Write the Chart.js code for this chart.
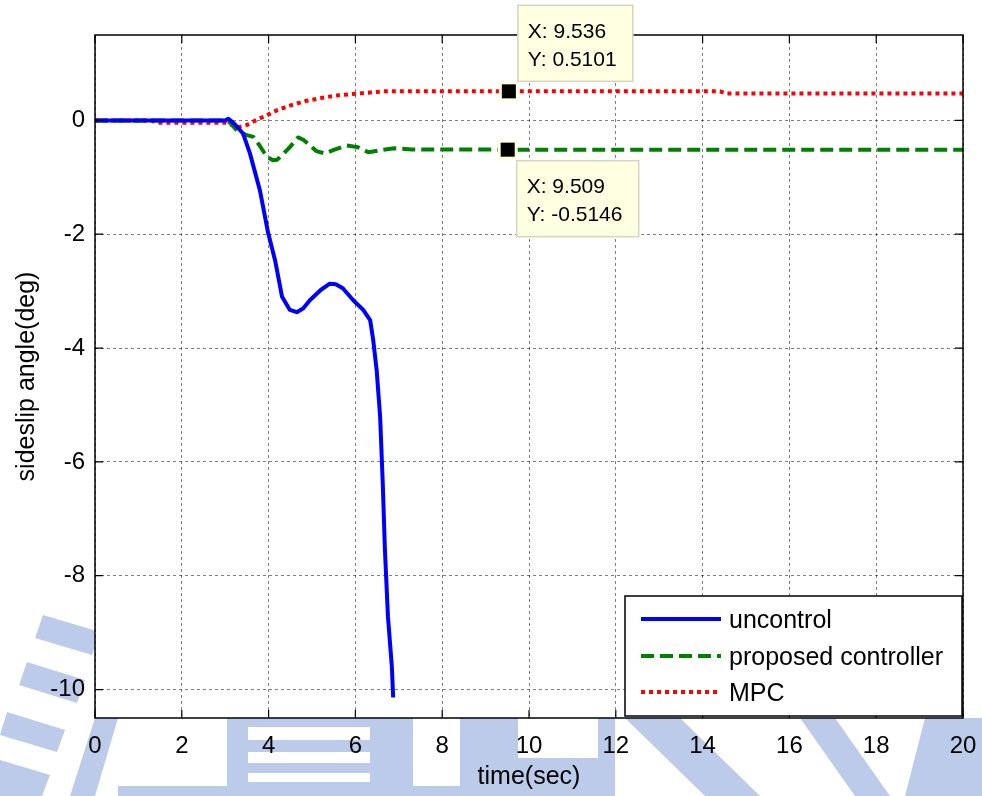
<!DOCTYPE html>
<html>
<head>
<meta charset="utf-8">
<script src="https://cdn.jsdelivr.net/npm/chart.js@4.4.0/dist/chart.umd.min.js"></script>
<style>
body { margin: 0; background: #fff; }
</style>
</head>
<body>
<canvas id="myChart" width="982" height="796"></canvas>
<script>
// tick values
var xTicks = [0, 2, 4, 6, 8, 10, 12, 14, 16, 18, 20];
var yTicks = [-10, -8, -6, -4, -2, 0];

// uncontrol
var tUncontrol = [0, 1, 2, 3.0, 3.07, 3.2, 3.41, 3.57, 3.8, 3.99, 4.15, 4.31, 4.49, 4.65, 4.8, 4.95, 5.2, 5.41, 5.55, 5.71, 5.95, 6.18, 6.34, 6.41, 6.49, 6.57, 6.63, 6.68, 6.75, 6.84, 6.87];
var yUncontrol = [0, 0, 0, 0.0, 0.03, -0.05, -0.23, -0.58, -1.23, -1.98, -2.46, -3.1, -3.33, -3.37, -3.3, -3.16, -2.98, -2.87, -2.88, -2.95, -3.16, -3.33, -3.51, -3.86, -4.39, -5.21, -6.37, -7.54, -8.72, -9.6, -10.14];

// proposed controller
var tProposed = [0, 3.0, 3.1, 3.3, 3.5, 3.65, 3.8, 3.96, 4.1, 4.2, 4.35, 4.49, 4.68, 4.8, 4.95, 5.1, 5.3, 5.5, 5.8, 6.05, 6.3, 6.6, 6.9, 7.3, 9.509, 20];
var yProposed = [0, 0, -0.03, -0.2, -0.26, -0.29, -0.45, -0.64, -0.7, -0.69, -0.58, -0.47, -0.3, -0.34, -0.44, -0.54, -0.58, -0.52, -0.44, -0.47, -0.56, -0.52, -0.49, -0.51, -0.5146, -0.515];

// MPC
var tMPC = [0, 1.3, 1.4, 3.0, 3.15, 3.3, 3.5, 3.7, 3.96, 4.2, 4.49, 4.85, 5.26, 5.6, 6.04, 6.64, 9.536, 14.4, 14.55, 20];
var yMPC = [0, 0, -0.04, -0.04, -0.08, -0.12, -0.08, 0.0, 0.09, 0.18, 0.26, 0.34, 0.4, 0.44, 0.47, 0.51, 0.5101, 0.51, 0.47, 0.47];

var seriesNames = ['uncontrol', 'proposed controller', 'MPC'];

// data tips
var tipX = [9.536, 9.509];
var tipY = [0.5101, -0.5146];

var FONT = '"Liberation Sans", Arial, sans-serif';

function toPoints(t, y) {
	var pts = [];
	for (var i = 0; i < t.length; i++) {
		pts.push({x: t[i], y: y[i]});
	}
	return pts;
}

function poly(ctx, pts) {
	ctx.beginPath();
	ctx.moveTo(pts[0][0], pts[0][1]);
	for (var i = 1; i < pts.length; i++) ctx.lineTo(pts[i][0], pts[i][1]);
	ctx.closePath();
	ctx.fill();
}

var matlabLook = {
	id: 'matlabLook',
	beforeDraw: function(chart) {
		var ctx = chart.ctx;
		var a = chart.chartArea;
		ctx.save();
		ctx.fillStyle = '#fff';
		ctx.fillRect(0, 0, chart.width, chart.height);
		// faint background watermark
		ctx.fillStyle = '#bccbea';
		poly(ctx, [[43,615],[100,632],[92,655],[35,638]]);
		poly(ctx, [[27,662],[85,680],[77,703],[19,685]]);
		poly(ctx, [[7,712],[65,730],[57,752],[0,735]]);
		poly(ctx, [[0,760],[50,775],[42,796],[0,796]]);
		poly(ctx, [[95,718],[118,718],[95,796],[70,796]]);
		ctx.fillRect(118, 786, 382, 10);
		ctx.fillRect(227, 718, 186, 78);
		ctx.fillRect(460, 718, 155, 78);
		poly(ctx, [[625,718],[680,718],[760,796],[705,796]]);
		poly(ctx, [[800,718],[835,718],[890,796],[855,796]]);
		poly(ctx, [[925,718],[982,718],[982,796],[905,796]]);
		ctx.fillStyle = '#fff';
		ctx.fillRect(248, 727, 122, 13);
		ctx.fillRect(248, 752, 122, 11);
		ctx.fillRect(248, 773, 122, 9);
		ctx.fillRect(518, 718, 80, 40);
		// plot background
		ctx.fillRect(a.left, a.top, a.right - a.left, a.bottom - a.top);
		ctx.restore();
	},
	afterDatasetsDraw: function(chart) {
		var ctx = chart.ctx;
		var a = chart.chartArea;
		var xs = chart.scales.x, ys = chart.scales.y;
		ctx.save();
		// axes box
		ctx.strokeStyle = '#000';
		ctx.lineWidth = 1.5;
		ctx.setLineDash([]);
		ctx.strokeRect(a.left, a.top, a.right - a.left, a.bottom - a.top);
		// inward tick marks
		ctx.lineWidth = 1.2;
		ctx.beginPath();
		xTicks.forEach(function(v) {
			var px = xs.getPixelForValue(v);
			ctx.moveTo(px, a.bottom); ctx.lineTo(px, a.bottom - 8);
			ctx.moveTo(px, a.top); ctx.lineTo(px, a.top + 8);
		});
		yTicks.forEach(function(v) {
			var py = ys.getPixelForValue(v);
			ctx.moveTo(a.left, py); ctx.lineTo(a.left + 8, py);
			ctx.moveTo(a.right, py); ctx.lineTo(a.right - 8, py);
		});
		ctx.stroke();

		// legend
		var lx = 625, ly = 596, lw = 337, lh = 120;
		ctx.fillStyle = '#fff';
		ctx.fillRect(lx, ly, lw, lh);
		ctx.lineWidth = 1.5;
		ctx.strokeRect(lx, ly, lw, lh);
		ctx.font = '25px ' + FONT;
		ctx.textBaseline = 'middle';
		ctx.textAlign = 'left';
		var rows = [619, 656, 692];
		chart.data.datasets.forEach(function(ds, i) {
			ctx.strokeStyle = ds.borderColor;
			ctx.lineWidth = ds.borderWidth;
			ctx.setLineDash(ds.borderDash || []);
			ctx.lineCap = 'butt';
			ctx.beginPath();
			ctx.moveTo(641, rows[i]);
			ctx.lineTo(721, rows[i]);
			ctx.stroke();
			ctx.setLineDash([]);
			ctx.fillStyle = '#000';
			ctx.fillText(ds.label, 729, rows[i] + 2);
		});

		// data tips
		ctx.font = '21px ' + FONT;
		for (var k = 0; k < tipX.length; k++) {
			var px = xs.getPixelForValue(tipX[k]);
			var py = ys.getPixelForValue(tipY[k]);
			ctx.fillStyle = '#ffffe1';
			ctx.fillRect(px - 10, py - 10, 20, 20);
			ctx.fillStyle = '#000';
			ctx.fillRect(px - 7, py - 7, 14, 14);
			var bx = px + 9;
			var by = k === 0 ? py - 86 : py + 11;
			var bw = k === 0 ? 115 : 122;
			var bh = 76;
			ctx.fillStyle = '#ffffe1';
			ctx.fillRect(bx, by, bw, bh);
			ctx.strokeStyle = '#d4d4c4';
			ctx.lineWidth = 1.5;
			ctx.strokeRect(bx, by, bw, bh);
			ctx.fillStyle = '#000';
			ctx.fillText('X: ' + tipX[k], bx + 10, by + 27);
			ctx.fillText('Y: ' + tipY[k], bx + 10, by + 55);
		}
		ctx.restore();
	}
};

var ctx = document.getElementById('myChart').getContext('2d');
var chart = new Chart(ctx, {
	type: 'line',
	data: {
		datasets: [{
			label: seriesNames[0],
			data: toPoints(tUncontrol, yUncontrol),
			borderColor: '#0000ff',
			borderWidth: 4,
			borderDash: []
		}, {
			label: seriesNames[1],
			data: toPoints(tProposed, yProposed),
			borderColor: '#008000',
			borderWidth: 4,
			borderDash: [13, 6]
		}, {
			label: seriesNames[2],
			data: toPoints(tMPC, yMPC),
			borderColor: '#ff0000',
			borderWidth: 4,
			borderDash: [4, 4]
		}]
	},
	options: {
		responsive: false,
		animation: false,
		layout: {padding: {left: 0, right: 19, top: 35, bottom: 0}},
		elements: {
			point: {radius: 0},
			line: {tension: 0, fill: false, borderCapStyle: 'butt', borderJoinStyle: 'round'}
		},
		plugins: {
			legend: {display: false},
			tooltip: {enabled: false}
		},
		scales: {
			x: {
				type: 'linear',
				min: 0,
				max: 20,
				afterBuildTicks: function(s) { s.ticks = xTicks.map(function(v) { return {value: v}; }); },
				afterFit: function(s) { s.height = 78; s.paddingLeft = 0; s.paddingRight = 0; },
				grid: {color: 'rgba(0,0,0,0.5)', lineWidth: 1, drawTicks: false},
				border: {display: false, dash: [3, 3]},
				ticks: {color: '#000', font: {family: FONT, size: 24}, padding: 14, maxRotation: 0, autoSkip: false},
				title: {display: true, text: 'time(sec)', color: '#000', font: {family: FONT, size: 25}, padding: {top: 0, bottom: 4}}
			},
			y: {
				type: 'linear',
				min: -10.5,
				max: 1.5,
				afterBuildTicks: function(s) { s.ticks = yTicks.map(function(v) { return {value: v}; }); },
				afterFit: function(s) { s.width = 95; s.paddingTop = 0; s.paddingBottom = 0; },
				grid: {color: 'rgba(0,0,0,0.5)', lineWidth: 1, drawTicks: false},
				border: {display: false, dash: [3, 3]},
				ticks: {color: '#000', font: {family: FONT, size: 24}, padding: 10, autoSkip: false},
				title: {display: true, text: 'sideslip angle(deg)', color: '#000', font: {family: FONT, size: 25}, padding: {top: 12, bottom: 0}}
			}
		}
	},
	plugins: [matlabLook]
});
</script>
</body>
</html>
